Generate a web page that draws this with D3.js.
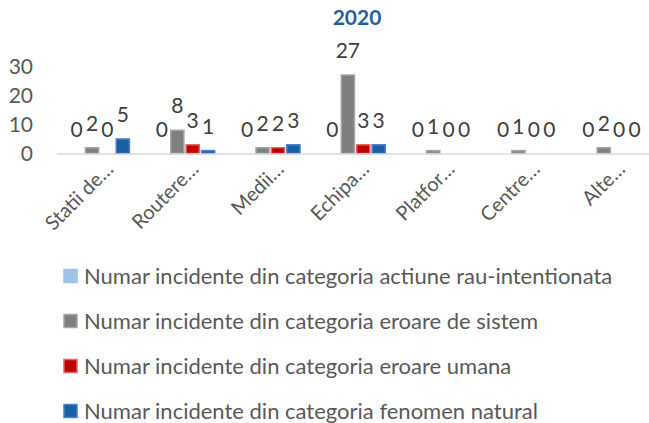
<!DOCTYPE html>
<html>
<head>
<meta charset="utf-8">
<script src="https://cdn.jsdelivr.net/npm/d3@7"></script>
<style>
  body { margin: 0; background: #fff; }
  svg { display: block; font-family: Lato, "Liberation Sans", sans-serif; }
</style>
</head>
<body>
<div id="chart"></div>
<script>
var categories = ["Statii de...", "Routere...", "Medii...", "Echipa...", "Platfor...", "Centre...", "Alte..."];
var seriesNames = [
  "Numar incidente din categoria actiune rau-intentionata",
  "Numar incidente din categoria eroare de sistem",
  "Numar incidente din categoria eroare umana",
  "Numar incidente din categoria fenomen natural"
];
var rauIntentionata = [0, 0, 0, 0, 0, 0, 0];
var eroareSistem    = [2, 8, 2, 27, 1, 1, 2];
var eroareUmana     = [0, 3, 2, 3, 0, 0, 0];
var fenomenNatural  = [5, 1, 3, 3, 0, 0, 0];
var yTicks = [0, 10, 20, 30];

var fills   = ["#9dc3e6", "#7f7f7f", "#c00000", "#1a5fa3"];
var strokes = ["#9dc3e6", "#a6a6a6", "#e06666", "#4a80cc"];

var width = 649, height = 423;
var margin = {top: 66, left: 57, right: -5};
var baseY = 153.5;

var svg = d3.select("#chart")
  .append("svg")
    .attr("width", width)
    .attr("height", height);

var allSeries = [rauIntentionata, eroareSistem, eroareUmana, fenomenNatural];
var rows = categories.map(function(c, i) {
  return { cat: c, vals: allSeries.map(function(s, k) { return {k: k, v: s[i]}; }) };
});

var x0 = d3.scaleBand()
  .domain(categories)
  .range([margin.left, width - margin.right])
  .padding(0);

var x1 = d3.scaleBand()
  .domain(d3.range(seriesNames.length))
  .range([x0.step() * 0.147, x0.step() * 0.855])
  .paddingInner(0.08);

var y = d3.scaleLinear()
  .domain([0, 30])
  .range([baseY, 66.3]);

// title
svg.append("text")
  .attr("x", 357)
  .attr("y", 25)
  .attr("text-anchor", "middle")
  .style("font-size", "21px")
  .style("font-weight", "bold")
  .style("fill", "#1f5f9f")
  .text("2020");

// y axis labels (no line)
var yAxis = svg.append("g")
  .attr("transform", "translate(" + 33 + ",0)")
  .call(d3.axisLeft(y).tickValues(yTicks).tickSize(0).tickPadding(0));
yAxis.select(".domain").remove();
yAxis.selectAll("text")
  .style("font-family", "Lato, sans-serif")
  .style("font-size", "21px")
  .style("fill", "#595959");

// bars
var groups = svg.selectAll(".grp")
  .data(rows)
  .enter().append("g")
  .attr("class", "grp")
  .attr("transform", function(d) { return "translate(" + x0(d.cat) + ",0)"; });

groups.selectAll("rect")
  .data(function(d) { return d.vals.filter(function(e) { return e.v > 0; }); })
  .enter().append("rect")
  .attr("x", function(d) { return x1(d.k) + 0.5; })
  .attr("y", function(d) { return y(d.v); })
  .attr("width", x1.bandwidth() - 1)
  .attr("height", function(d) { return baseY - y(d.v); })
  .style("fill", function(d) { return fills[d.k]; })
  .style("stroke", function(d) { return strokes[d.k]; })
  .style("stroke-width", 1.5);

// x axis line
svg.append("line")
  .attr("x1", margin.left)
  .attr("x2", width)
  .attr("y1", baseY + 0.5)
  .attr("y2", baseY + 0.5)
  .style("stroke", "#d9d9d9")
  .style("stroke-width", 1.5);

// data labels
groups.selectAll(".lbl")
  .data(function(d) { return d.vals; })
  .enter().append("text")
  .attr("class", "lbl")
  .attr("x", function(d) { return x1(d.k) + x1.bandwidth() / 2; })
  .attr("y", function(d) { return y(d.v) - 17; })
  .attr("text-anchor", "middle")
  .style("font-size", "21px")
  .style("fill", "#404040")
  .text(function(d) { return d.v; });

// category labels
svg.selectAll(".cat")
  .data(categories)
  .enter().append("text")
  .attr("class", "cat")
  .attr("transform", function(d) {
    return "translate(" + (x0(d) + x0.bandwidth() / 2 + 10) + "," + (baseY + 12) + ") rotate(-45)";
  })
  .attr("text-anchor", "end")
  .attr("dy", "0.35em")
  .style("font-size", "20px")
  .style("fill", "#595959")
  .text(function(d) { return d.replace("...", "\u2026"); });

// legend
var legend = svg.selectAll(".leg")
  .data(seriesNames)
  .enter().append("g")
  .attr("class", "leg")
  .attr("transform", function(d, i) { return "translate(63," + (276 + i * 45) + ")"; });

legend.append("rect")
  .attr("x", 1)
  .attr("y", -6.5)
  .attr("width", 13)
  .attr("height", 13)
  .style("fill", function(d, i) { return fills[i]; })
  .style("stroke", function(d, i) { return strokes[i]; })
  .style("stroke-width", 1.5);

legend.append("text")
  .attr("x", 21)
  .attr("dy", "0.35em")
  .style("font-size", "22px")
  .style("fill", "#595959")
  .text(function(d) { return d; });
</script>
</body>
</html>
